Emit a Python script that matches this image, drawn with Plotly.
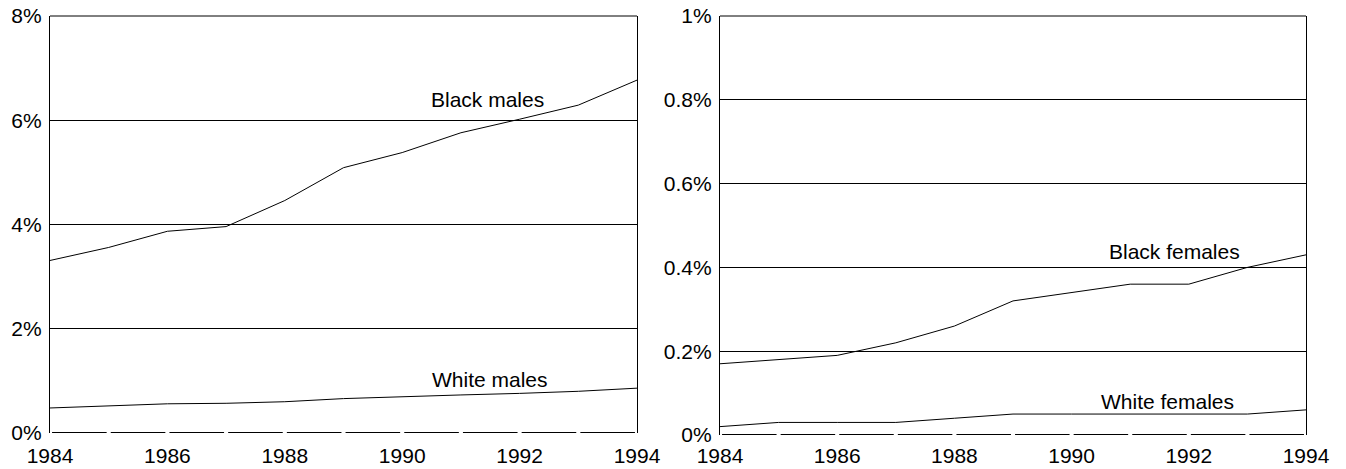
import plotly.graph_objects as go

years = [1984, 1985, 1986, 1987, 1988, 1989, 1990, 1991, 1992, 1993, 1994]
black_males = [3.31, 3.56, 3.87, 3.96, 4.46, 5.09, 5.38, 5.76, 6.02, 6.29, 6.77]
white_males = [0.48, 0.52, 0.56, 0.57, 0.60, 0.66, 0.70, 0.73, 0.76, 0.80, 0.86]
black_females = [0.17, 0.18, 0.19, 0.22, 0.26, 0.32, 0.34, 0.36, 0.36, 0.40, 0.43]
white_females = [0.02, 0.03, 0.03, 0.03, 0.04, 0.05, 0.05, 0.05, 0.05, 0.05, 0.06]

left_ticks = [0, 2, 4, 6, 8]
left_labels = ["0%", "2%", "4%", "6%", "8%"]
right_ticks = [0, 0.2, 0.4, 0.6, 0.8, 1.0]
right_labels = ["0%", "0.2%", "0.4%", "0.6%", "0.8%", "1%"]
x_ticks = [1984, 1986, 1988, 1990, 1992, 1994]

FONT = "Liberation Sans, Arial, sans-serif"
W, H = 1346, 469

fig = go.Figure()
line = dict(color="black", width=1)

fig.add_trace(go.Scatter(x=years, y=black_males, mode="lines", line=line, xaxis="x", yaxis="y"))
fig.add_trace(go.Scatter(x=years, y=white_males, mode="lines", line=line, xaxis="x", yaxis="y"))
fig.add_trace(go.Scatter(x=years, y=black_females, mode="lines", line=line, xaxis="x2", yaxis="y2"))
fig.add_trace(go.Scatter(x=years, y=white_females, mode="lines", line=line, xaxis="x2", yaxis="y2"))

# dashed baseline: segments between years with small gaps at each year
gap = 0.035
bx, by = [], []
for a in years[:-1]:
    bx += [a + gap, a + 1 - gap, None]
    by += [0, 0, None]
for xa, ya in (("x", "y"), ("x2", "y2")):
    fig.add_trace(go.Scatter(x=bx, y=by, mode="lines", line=dict(color="black", width=2),
                             xaxis=xa, yaxis=ya, cliponaxis=False))

def xax(dom, anchor, standoff):
    return dict(domain=dom, anchor=anchor, range=[1984, 1994], tickvals=x_ticks,
                ticktext=[str(v) for v in x_ticks], showgrid=False, zeroline=False,
                showline=False, ticks="", ticklabelstandoff=standoff, automargin=False,
                tickfont=dict(family=FONT, size=21, color="black"))

def yax(dom, anchor, rng, tv, tt):
    return dict(domain=dom, anchor=anchor, range=rng, tickvals=tv, ticktext=tt,
                showgrid=True, gridcolor="black", gridwidth=1, zeroline=False,
                showline=True, linecolor="black", linewidth=1.3, mirror=True,
                ticks="", ticklabelstandoff=3, automargin=False,
                tickfont=dict(family=FONT, size=21, color="black"))

def px_x(a, b):
    return [a / W, b / W]

def px_y(top, bottom):
    return [(H - bottom) / H, (H - top) / H]

fig.update_layout(
    width=W, height=H,
    margin=dict(l=0, r=0, t=0, b=0, autoexpand=False),
    paper_bgcolor="white", plot_bgcolor="white",
    showlegend=False,
    xaxis=xax(px_x(50, 637), "y", 8),
    yaxis=yax(px_y(16, 433), "x", [0, 8], left_ticks, left_labels),
    xaxis2=xax(px_x(720, 1306), "y2", 6),
    yaxis2=yax(px_y(16, 435), "x2", [0, 1], right_ticks, right_labels),
)

for xr, yr in (("x domain", "y domain"), ("x2 domain", "y2 domain")):
    fig.add_shape(type="line", xref=xr, yref=yr, x0=0, x1=1, y0=1, y1=1,
                  line=dict(color="black", width=1))

labels = [
    ("Black males", 1991.46, 6.4, "x", "y"),
    ("White males", 1991.5, 1.02, "x", "y"),
    ("Black females", 1991.76, 0.437, "x2", "y2"),
    ("White females", 1991.63, 0.079, "x2", "y2"),
]
for txt, lx, ly, xr, yr in labels:
    fig.add_annotation(text=txt, x=lx, y=ly, xref=xr, yref=yr, showarrow=False,
                       font=dict(family=FONT, size=21, color="black"))

fig.write_html("out.html", config={"displayModeBar": False},
               post_script="document.body.style.margin='0';document.body.style.overflow='hidden';")
